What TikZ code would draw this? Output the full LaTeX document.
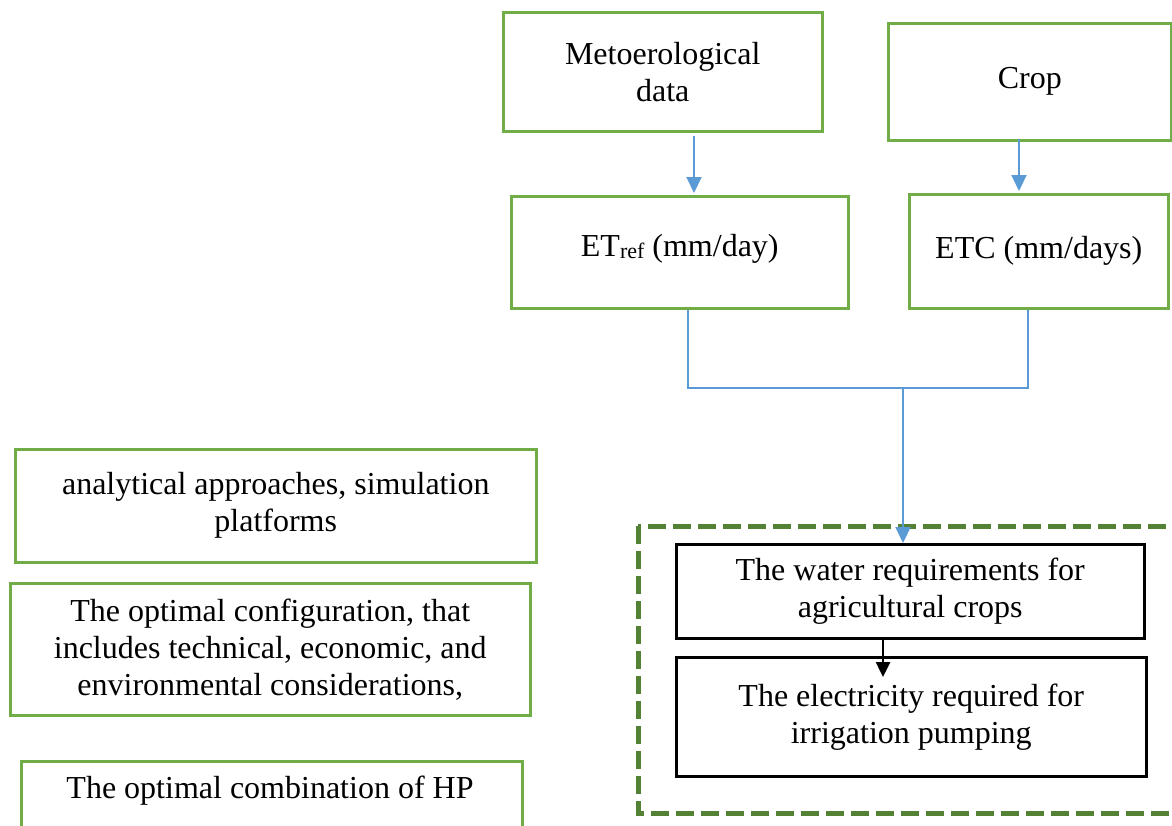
\documentclass[tikz,border=0pt]{standalone}
\usepackage{fontspec}
\setmainfont{Liberation Serif}
\usetikzlibrary{arrows.meta}
\definecolor{boxgreen}{HTML}{70AD47}
\definecolor{dashgreen}{HTML}{548235}
\definecolor{arrowblue}{HTML}{5B9BD5}
\tikzset{
  gbox/.style={draw=boxgreen, line width=2.5pt, anchor=north west, align=center, inner sep=0pt,
    font=\fontsize{32}{37}\selectfont},
  kbox/.style={draw=black, line width=2.5pt, anchor=north west, align=center, inner sep=0pt,
    font=\fontsize{32}{37}\selectfont},
  barrow/.style={draw=arrowblue, line width=2pt, -{Triangle[width=15pt,length=16pt]}, shorten >=2pt},
  bline/.style={draw=arrowblue, line width=2pt},
  karrow/.style={draw=black, line width=2.5pt, -{Triangle[width=14pt,length=15pt]}},
}
\begin{document}
\begin{tikzpicture}[x=1pt,y=-1pt]
\useasboundingbox (0,0) rectangle (1172,825);
% dashed container
\draw[dashgreen, line width=5pt, dash pattern=on 18pt off 7pt] (638,526) rectangle (1190,813);
% boxes
\node[gbox, minimum width=319pt, minimum height=119pt] (meteo) at (502,11) {Metoerological\\data};
\node[gbox, minimum width=283pt, minimum height=117pt] (crop) at (887,22) {\raisebox{-3pt}{Crop}};
\node[gbox, minimum width=337pt, minimum height=112pt] (etref) at (510,195) {\raisebox{14pt}{ET\raisebox{-2pt}{\fontsize{22}{24}\selectfont ref} (mm/day)}};
\node[gbox, minimum width=259pt, minimum height=114pt] (etc) at (908,193) {\raisebox{-3pt}{ETC (mm/days)}};
\node[gbox, minimum width=521pt, minimum height=113pt] (anal) at (14,448) {analytical approaches, simulation\\platforms};
\node[gbox, minimum width=520pt, minimum height=132pt] (conf) at (9,582) {The optimal configuration, that\\includes technical, economic, and\\environmental considerations,};
\node[gbox, minimum width=501pt, minimum height=100pt] (comb) at (20,760) {};
\node[font=\fontsize{32}{37}\selectfont, anchor=center] (combtext) at (270,791) {The optimal combination of HP};
\node[kbox, minimum width=468pt, minimum height=94pt] (water) at (675,543) {The water requirements for\\agricultural crops};
\node[kbox, minimum width=470pt, minimum height=119pt] (elec) at (675,656) {The electricity required for\\irrigation pumping};
% connectors
\coordinate (j1) at (688,388);
\coordinate (j2) at (1028,388);
\coordinate (jm) at (903,388);
\coordinate (ktip) at (883,677);
\draw[barrow] (meteo.south -| 694,0) ++(0,3) -- (etref.north -| 694,0);
\draw[barrow] (crop.south -| 1019,0) ++(0,-3) -- (etc.north -| 1019,0);
\draw[bline] (etref.south -| j1) -- (j1) -- (j2) -- (etc.south -| j2);
\draw[barrow, shorten >=0pt] (jm) -- (water.north -| jm);
\draw[karrow] (water.south -| ktip) -- (ktip);
\end{tikzpicture}
\end{document}
